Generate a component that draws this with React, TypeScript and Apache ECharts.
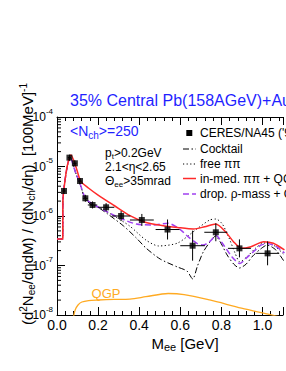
import React, { useEffect, useRef } from "react";
import * as echarts from "echarts";

const FONT = '"Liberation Sans", Arial, Helvetica, sans-serif';

// CERES/NA45 data points
const ceresM = [0.034, 0.0605, 0.087, 0.112, 0.138, 0.173, 0.239, 0.312, 0.413, 0.538, 0.66, 0.773, 0.888, 1.025];
const ceresV = [3.2e-6, 1.51e-5, 1.16e-5, 5.09e-6, 2.28e-6, 1.67e-6, 1.5e-6, 1.0e-6, 8.3e-7, 5.33e-7, 2.51e-7, 4.69e-7, 2.22e-7, 1.76e-7];
const ceresMErr = [0.008, 0.008, 0.008, 0.008, 0.012, 0.023, 0.04, 0.045, 0.058, 0.058, 0.06, 0.056, 0.056, 0.056];
const ceresLow = [2.78e-6, 1.31e-5, 1.01e-5, 4.43e-6, 1.94e-6, 1.42e-6, 1.23e-6, 7.9e-7, 6.3e-7, 3.35e-7, 1.25e-7, 3.09e-7, 1.46e-7, 1.01e-7];
const ceresHigh = [3.68e-6, 1.74e-5, 1.33e-5, 5.85e-6, 2.68e-6, 1.97e-6, 1.82e-6, 1.26e-6, 1.1e-6, 8.5e-7, 5.05e-7, 7.13e-7, 3.37e-7, 3.07e-7];

// Cocktail
const cocktailM = [0, 0.028, 0.0285, 0.045, 0.0637, 0.0916, 0.1116, 0.1381, 0.1688, 0.2, 0.2465, 0.324, 0.386, 0.4326, 0.5023, 0.586, 0.6326, 0.6605, 0.6837, 0.7116, 0.7442, 0.7721, 0.8, 0.828, 0.86, 0.888, 0.921, 0.953, 0.9907, 1.0233, 1.0651, 1.107];
const cocktailV = [3.43e-7, 3.43e-7, 1.95e-6, 7.74e-6, 1.53e-5, 7.29e-6, 4.43e-6, 2.2e-6, 1.67e-6, 1.49e-6, 1.1e-6, 6.28e-7, 3.6e-7, 2.26e-7, 1.35e-7, 9.33e-8, 7.74e-8, 5.33e-8, 9.77e-8, 1.87e-7, 2.98e-7, 3.94e-7, 2.72e-7, 1.63e-7, 1.07e-7, 8.89e-8, 1.07e-7, 1.56e-7, 2.15e-7, 2.59e-7, 2.06e-7, 1.18e-7];

// free pi pi
const freePiPiM = [0, 0.028, 0.0285, 0.045, 0.0637, 0.0916, 0.1116, 0.1381, 0.1688, 0.2, 0.2777, 0.3535, 0.4326, 0.4944, 0.5874, 0.6805, 0.7428, 0.7735, 0.8047, 0.8372, 0.8665, 0.8898, 0.929, 0.9674, 1.006, 1.053, 1.107];
const freePiPiV = [3.43e-7, 3.43e-7, 1.95e-6, 7.74e-6, 1.53e-5, 7.29e-6, 4.43e-6, 2.2e-6, 1.67e-6, 1.52e-6, 1.0e-6, 6.28e-7, 3.27e-7, 2.48e-7, 2.85e-7, 5.46e-7, 8.3e-7, 8.69e-7, 6.89e-7, 3.6e-7, 1.79e-7, 1.18e-7, 1.56e-7, 2.26e-7, 2.85e-7, 2.59e-7, 1.63e-7];

// in-medium pi pi + QGP
const inMedM = [0, 0.028, 0.0285, 0.045, 0.057, 0.068, 0.092, 0.115, 0.153, 0.2, 0.278, 0.355, 0.433, 0.51, 0.587, 0.665, 0.719, 0.773, 0.82, 0.859, 0.898, 0.944, 1.006, 1.053, 1.107];
const inMedV = [3.43e-7, 3.43e-7, 1.95e-6, 7.85e-6, 1.35e-5, 1.71e-5, 9.9e-6, 5.09e-6, 3.68e-6, 2.65e-6, 1.63e-6, 1.02e-6, 7.4e-7, 6.43e-7, 5.86e-7, 5.46e-7, 6.08e-7, 6.89e-7, 4.82e-7, 3.03e-7, 2.22e-7, 2.4e-7, 3.03e-7, 2.81e-7, 2.06e-7];

// dropping rho mass + QGP
const dropRhoM = [0, 0.028, 0.0285, 0.045, 0.0637, 0.0916, 0.1116, 0.1381, 0.1688, 0.2312, 0.3084, 0.386, 0.4637, 0.541, 0.603, 0.634, 0.681, 0.712, 0.743, 0.774, 0.805, 0.851, 0.89, 0.929, 0.96, 0.991, 1.023, 1.068, 1.107];
const dropRhoV = [3.43e-7, 3.43e-7, 1.95e-6, 7.74e-6, 1.53e-5, 7.29e-6, 4.58e-6, 2.28e-6, 1.81e-6, 1.29e-6, 8.99e-7, 6.89e-7, 6.58e-7, 7.13e-7, 5.21e-7, 3.94e-7, 2.81e-7, 2.59e-7, 3.03e-7, 4.04e-7, 2.81e-7, 1.51e-7, 1.1e-7, 1.51e-7, 1.96e-7, 2.54e-7, 2.78e-7, 2.4e-7, 1.79e-7];

// QGP
const qgpM = [0.079, 0.0884, 0.1023, 0.121, 0.1535, 0.2, 0.2777, 0.3549, 0.4326, 0.541, 0.6186, 0.7428, 0.8977, 1.0372, 1.107];
const qgpV = [8.5e-9, 1.26e-8, 1.59e-8, 1.83e-8, 1.96e-8, 2.01e-8, 2.06e-8, 2.1e-8, 2.34e-8, 2.72e-8, 2.59e-8, 2.01e-8, 1.38e-8, 1.02e-8, 8.7e-9];

// axis ticks
const xTickLabels = ["0.0", "0.2", "0.4", "0.6", "0.8", "1.0"];
const yDecades = [-8, -7, -6, -5];
const yMinorMultipliers = [2, 3, 4, 5, 6, 7, 8, 9];

// legend entries
const legendNames = ["CERES/NA45 ('96)", "Cocktail", "free ππ", "in-med. ππ + QGP", "drop. ρ-mass + QGP"];

const RED = "#ff2a2a";
const PURPLE = "#a040f0";
const ORANGE = "#ffaa22";
const BLUE = "#1f1fff";
const DASH_DOT = [6, 2.5, 1.5, 2.5];
const DOTTED = [1.2, 2.4];
const DASHED = [6, 3];

const pairs = (m: number[], v: number[]) => m.map((x, i) => [x, v[i]]);

export default function App() {
  const ref = useRef<HTMLDivElement>(null);
  useEffect(() => {
    document.body.style.margin = "0";
    const chart = echarts.init(ref.current!, null, { renderer: "svg" });

    const yMinor: number[][] = [];
    yDecades.forEach((d) => yMinorMultipliers.forEach((k) => yMinor.push([0, k * Math.pow(10, d)])));

    const sub = (size: number, color = "#000", pad = 7) => ({ fontSize: size, fontFamily: FONT, fill: color, color, padding: [pad, 0, 0, 0] });
    const sup = (size: number, color = "#000", pad = 8) => ({ fontSize: size, fontFamily: FONT, fill: color, color, padding: [0, 0, pad, 0] });

    const xAxisCommon = {
      type: "value",
      min: 0,
      max: 1.1,
      interval: 0.2,
      axisLine: { show: true, lineStyle: { color: "#000", width: 1 } },
      axisTick: { show: true, inside: true, length: 8, lineStyle: { color: "#000" } },
      minorTick: { show: true, splitNumber: 5, length: 4, lineStyle: { color: "#000" } },
      splitLine: { show: false },
      minorSplitLine: { show: false },
    };

    // legend drawn as graphic elements
    const legY = [133, 149, 164, 178.5, 194];
    const legStyles = [
      null,
      { stroke: "#000", lineWidth: 1, lineDash: DASH_DOT },
      { stroke: "#000", lineWidth: 1, lineDash: DOTTED },
      { stroke: RED, lineWidth: 1.5 },
      { stroke: PURPLE, lineWidth: 1.5, lineDash: DASHED },
    ];
    const legendGraphics: any[] = [];
    legendNames.forEach((name, i) => {
      const y = legY[i];
      if (i === 0) {
        legendGraphics.push({ type: "rect", shape: { x: 186.3, y: y - 3, width: 6, height: 6 }, style: { fill: "#000" } });
      } else {
        legendGraphics.push({ type: "line", shape: { x1: 183, y1: y, x2: 196, y2: y }, style: legStyles[i] });
      }
      legendGraphics.push({
        type: "text",
        x: 200,
        y,
        style: { text: name, fill: "#000", fontSize: 12, fontFamily: FONT, verticalAlign: "middle" },
      });
    });

    const option: any = {
      animation: false,
      textStyle: { fontFamily: FONT },
      grid: { left: 57, top: 117, width: 236.5, height: 198, containLabel: false },
      xAxis: [
        {
          ...xAxisCommon,
          position: "bottom",
          axisLabel: {
            show: true,
            margin: 3,
            fontSize: 14,
            fontFamily: FONT,
            color: "#000",
            formatter: (v: number) => {
              const i = Math.round(v / 0.2);
              return Math.abs(v / 0.2 - i) < 1e-6 && i < xTickLabels.length ? xTickLabels[i] : "";
            },
          },
        },
        { ...xAxisCommon, position: "top", axisLabel: { show: false } },
      ],
      yAxis: {
        type: "log",
        logBase: 10,
        min: 1e-8,
        max: 1e-4,
        axisLine: { show: true, lineStyle: { color: "#000", width: 1 } },
        axisTick: { show: true, inside: true, length: 8, lineStyle: { color: "#000" } },
        splitLine: { show: false },
        axisLabel: {
          margin: 4,
          color: "#000",
          formatter: (v: number) => `{a|10}{b|${Math.round(Math.log10(v))}}`,
          rich: {
            a: { fontSize: 12, fontFamily: FONT, color: "#000" },
            b: { fontSize: 8, fontFamily: FONT, color: "#000", padding: [0, 0, 12, 0] },
          },
        },
      },
      graphic: [
        {
          type: "text",
          x: 70,
          y: 100,
          style: { text: "35% Central Pb(158AGeV)+Au", fill: BLUE, fontSize: 16, fontFamily: FONT, verticalAlign: "middle" },
        },
        {
          type: "text",
          x: 70,
          y: 131,
          style: {
            text: "<N{s|ch}>=250",
            fill: BLUE,
            fontSize: 14,
            fontFamily: FONT,
            verticalAlign: "middle",
            rich: { s: sub(10, BLUE, 9) },
          },
        },
        {
          type: "text",
          x: 105,
          y: 153,
          style: { text: "p{s|t}>0.2GeV", fill: "#000", fontSize: 12, fontFamily: FONT, verticalAlign: "middle", rich: { s: sub(8, "#000", 6) } },
        },
        {
          type: "text",
          x: 105,
          y: 167,
          style: { text: "2.1<η<2.65", fill: "#000", fontSize: 12, fontFamily: FONT, verticalAlign: "middle" },
        },
        {
          type: "text",
          x: 105,
          y: 181,
          style: { text: "Θ{s|ee}>35mrad", fill: "#000", fontSize: 12, fontFamily: FONT, verticalAlign: "middle", rich: { s: sub(8, "#000", 6) } },
        },
        {
          type: "text",
          x: 106,
          y: 293,
          style: { text: "QGP", fill: ORANGE, fontSize: 13, fontFamily: FONT, align: "center", verticalAlign: "middle" },
        },
        {
          type: "text",
          x: 185,
          y: 343,
          style: { text: "M{s|ee} [GeV]", fill: "#000", fontSize: 15, fontFamily: FONT, align: "center", verticalAlign: "middle", rich: { s: sub(11, "#000", 8) } },
        },
        {
          type: "text",
          x: 27,
          y: 204,
          rotation: Math.PI / 2,
          style: {
            text: "(d{p|2}N{s|ee}/dηdM) / (dN{s|ch}/dη)  [100MeV]{p|-1}",
            fill: "#000",
            fontSize: 15,
            fontFamily: FONT,
            align: "center",
            verticalAlign: "middle",
            rich: { s: sub(10, "#000", 8), p: sup(10, "#000", 8) },
          },
        },
        ...legendGraphics,
      ],
      series: [
        {
          type: "line",
          name: "QGP",
          data: pairs(qgpM, qgpV),
          showSymbol: false,
          symbol: "none",
          smooth: 0.3,
          lineStyle: { color: ORANGE, width: 1.3 },
          itemStyle: { color: ORANGE },
          z: 2,
        },
        {
          type: "line",
          name: legendNames[1],
          data: pairs(cocktailM, cocktailV),
          showSymbol: false,
          symbol: "none",
          smooth: 0.25,
          lineStyle: { color: "#000", width: 1, type: DASH_DOT },
          itemStyle: { color: "#000" },
          z: 2,
        },
        {
          type: "line",
          name: legendNames[2],
          data: pairs(freePiPiM, freePiPiV),
          showSymbol: false,
          symbol: "none",
          smooth: 0.25,
          lineStyle: { color: "#000", width: 1, type: DOTTED },
          itemStyle: { color: "#000" },
          z: 2,
        },
        {
          type: "line",
          name: legendNames[4],
          data: pairs(dropRhoM, dropRhoV),
          showSymbol: false,
          symbol: "none",
          smooth: 0.25,
          lineStyle: { color: PURPLE, width: 1.5, type: DASHED },
          itemStyle: { color: PURPLE },
          z: 3,
        },
        {
          type: "line",
          name: legendNames[3],
          data: pairs(inMedM, inMedV),
          showSymbol: false,
          symbol: "none",
          smooth: 0.25,
          lineStyle: { color: RED, width: 1.5 },
          itemStyle: { color: RED },
          z: 3,
        },
        {
          type: "custom",
          silent: true,
          z: 4,
          encode: { x: 0, y: 1 },
          data: ceresM.map((m, i) => [m, ceresV[i], ceresMErr[i], ceresLow[i], ceresHigh[i]]),
          renderItem: (params: any, api: any) => {
            const m = api.value(0);
            const v = api.value(1);
            const dm = api.value(2);
            const c = api.coord([m, v]);
            const l = api.coord([m - dm, v]);
            const r = api.coord([m + dm, v]);
            const t = api.coord([m, api.value(4)]);
            const b = api.coord([m, api.value(3)]);
            return {
              type: "group",
              children: [
                { type: "line", shape: { x1: l[0], y1: c[1], x2: r[0], y2: c[1] }, style: { stroke: "#000", lineWidth: 1 } },
                { type: "line", shape: { x1: c[0], y1: t[1], x2: c[0], y2: b[1] }, style: { stroke: "#000", lineWidth: 1 } },
              ],
            };
          },
        },
        {
          type: "scatter",
          name: legendNames[0],
          data: pairs(ceresM, ceresV),
          symbol: "rect",
          symbolSize: 6,
          itemStyle: { color: "#000" },
          z: 5,
        },
        {
          type: "custom",
          silent: true,
          clip: false,
          z: 6,
          encode: { x: 0, y: 1 },
          data: yMinor,
          renderItem: (params: any, api: any) => {
            const p = api.coord([0, api.value(1)]);
            return { type: "line", shape: { x1: p[0], y1: p[1], x2: p[0] + 4, y2: p[1] }, style: { stroke: "#000", lineWidth: 1 } };
          },
        },
      ],
    };

    chart.setOption(option);
    return () => chart.dispose();
  }, []);
  return <div ref={ref} style={{ width: 286, height: 371 }} />;
}
